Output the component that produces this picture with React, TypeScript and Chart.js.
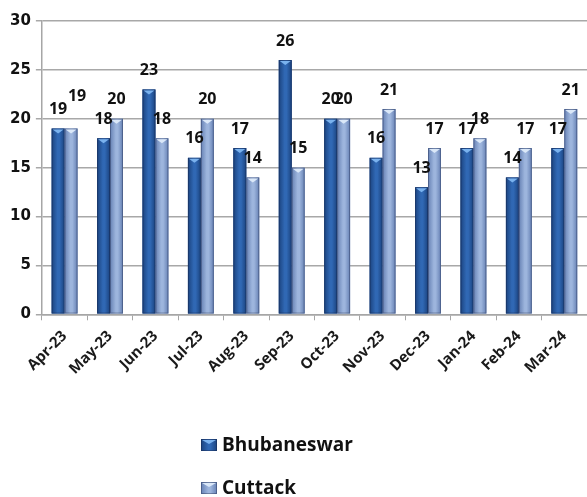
import React, { useEffect, useRef } from "react";
import { Chart, registerables } from "chart.js";

Chart.register(...registerables);

const categories = ["Apr-23", "May-23", "Jun-23", "Jul-23", "Aug-23", "Sep-23", "Oct-23", "Nov-23", "Dec-23", "Jan-24", "Feb-24", "Mar-24"];
const bhubaneswar = [19, 18, 23, 16, 17, 26, 20, 16, 13, 17, 14, 17];
const cuttack = [19, 20, 18, 20, 14, 15, 20, 21, 17, 18, 17, 21];
const seriesNames = ["Bhubaneswar", "Cuttack"];
const yMin = 0;
const yMax = 30;
const yStep = 5;

const palettes = [
  { edge: "#1b437f", mid: "#3068b4", bevel: "#7ab2ee" },
  { edge: "#6681b4", mid: "#9db5dd", bevel: "#dbe8f8" },
];

function fillBar(ctx: CanvasRenderingContext2D, left: number, top: number, w: number, h: number, p: { edge: string; mid: string; bevel: string }) {
  const g = ctx.createLinearGradient(left, 0, left + w, 0);
  g.addColorStop(0, p.edge);
  g.addColorStop(0.45, p.mid);
  g.addColorStop(0.6, p.mid);
  g.addColorStop(1, p.edge);
  ctx.fillStyle = g;
  ctx.fillRect(left, top, w, h);
  ctx.strokeStyle = "rgba(20,30,60,0.35)";
  ctx.lineWidth = 1;
  ctx.strokeRect(left + 0.5, top + 0.5, w - 1, h - 1);
}

const barPainter = {
  id: "barPainter",
  afterDatasetsDraw(chart: any) {
    const ctx: CanvasRenderingContext2D = chart.ctx;
    ctx.save();
    chart.data.datasets.forEach((ds: any, di: number) => {
      const meta = chart.getDatasetMeta(di);
      const p = palettes[di];
      meta.data.forEach((bar: any) => {
        const { x, y, base, width } = bar.getProps(["x", "y", "base", "width"], true);
        const left = x - width / 2;
        const h = base - y;
        fillBar(ctx, left, y, width, h, p);
        ctx.fillStyle = p.bevel;
        ctx.beginPath();
        ctx.moveTo(left + 1, y + 1);
        ctx.lineTo(left + width - 1, y + 1);
        ctx.lineTo(x, y + 5);
        ctx.closePath();
        ctx.fill();
      });
    });
    // data labels
    ctx.font = "bold 16px 'Open Sans'";
    ctx.fillStyle = "#111";
    ctx.textAlign = "center";
    ctx.textBaseline = "middle";
    const d0 = chart.data.datasets[0].data;
    chart.data.datasets.forEach((ds: any, di: number) => {
      const meta = chart.getDatasetMeta(di);
      meta.data.forEach((bar: any, i: number) => {
        const { x, y } = bar.getProps(["x", "y"], true);
        let dx = 0;
        let dy = 0;
        // first pair with identical values: second label nudged up-right as in the original
        if (di === 1 && i === 0 && ds.data[i] === d0[i]) {
          dx = 6;
          dy = -13;
        }
        ctx.fillText(String(ds.data[i]), x + dx, y - 19 + dy);
      });
    });
    ctx.restore();
  },
  afterDraw(chart: any) {
    const ctx: CanvasRenderingContext2D = chart.ctx;
    ctx.save();
    const rows = [445, 488];
    ctx.font = "bold 19px 'Open Sans'";
    ctx.textAlign = "left";
    ctx.textBaseline = "middle";
    chart.data.datasets.forEach((ds: any, di: number) => {
      const cy = rows[di];
      const p = palettes[di];
      fillBar(ctx, 201, cy - 6, 16, 12, p);
      ctx.fillStyle = p.bevel;
      ctx.beginPath();
      ctx.moveTo(202, cy - 5);
      ctx.lineTo(216, cy - 5);
      ctx.lineTo(209, cy - 1);
      ctx.closePath();
      ctx.fill();
      ctx.fillStyle = "#111";
      ctx.fillText(ds.label, 222, cy + 1);
    });
    ctx.restore();
  },
};

export default function App() {
  const ref = useRef<HTMLCanvasElement | null>(null);
  useEffect(() => {
    document.body.style.margin = "0";
    if (!ref.current) return;
    const chart = new Chart(ref.current, {
      type: "bar",
      data: {
        labels: categories,
        datasets: [
          { label: seriesNames[0], data: bhubaneswar, backgroundColor: "#2a5ea8", borderWidth: 0 },
          { label: seriesNames[1], data: cuttack, backgroundColor: "#8ca6d2", borderWidth: 0 },
        ],
      },
      options: {
        animation: false,
        responsive: false,
        maintainAspectRatio: false,
        layout: { padding: { left: 5, top: 21, right: 0, bottom: 112 } },
        datasets: { bar: { categoryPercentage: 0.57, barPercentage: 1.0 } },
        plugins: { legend: { display: false }, tooltip: { enabled: false } },
        scales: {
          x: {
            offset: true,
            grid: { display: true, drawOnChartArea: false, drawTicks: true, tickLength: 6, offset: true, color: "#a6a6a6" },
            border: { display: true, color: "#a6a6a6", width: 1.5 },
            ticks: {
              maxRotation: 45,
              minRotation: 45,
              autoSkip: false,
              color: "#1a1a1a",
              padding: 7,
              font: { family: "'Open Sans'", size: 15, weight: "bold" },
            },
          },
          y: {
            min: yMin,
            max: yMax,
            ticks: {
              stepSize: yStep,
              color: "#111",
              padding: 5,
              font: { family: "'DejaVu Sans'", size: 15, weight: "bold" },
            },
            grid: { color: "#a8a8a8", lineWidth: 1.5, tickLength: 6 },
            border: { display: true, color: "#a6a6a6", width: 1.5 },
          },
        },
      },
      plugins: [barPainter],
    });
    return () => chart.destroy();
  }, []);
  return (
    <div style={{ width: 587, height: 497, position: "relative" }}>
      <canvas ref={ref} width={587} height={497} style={{ display: "block" }} />
    </div>
  );
}
